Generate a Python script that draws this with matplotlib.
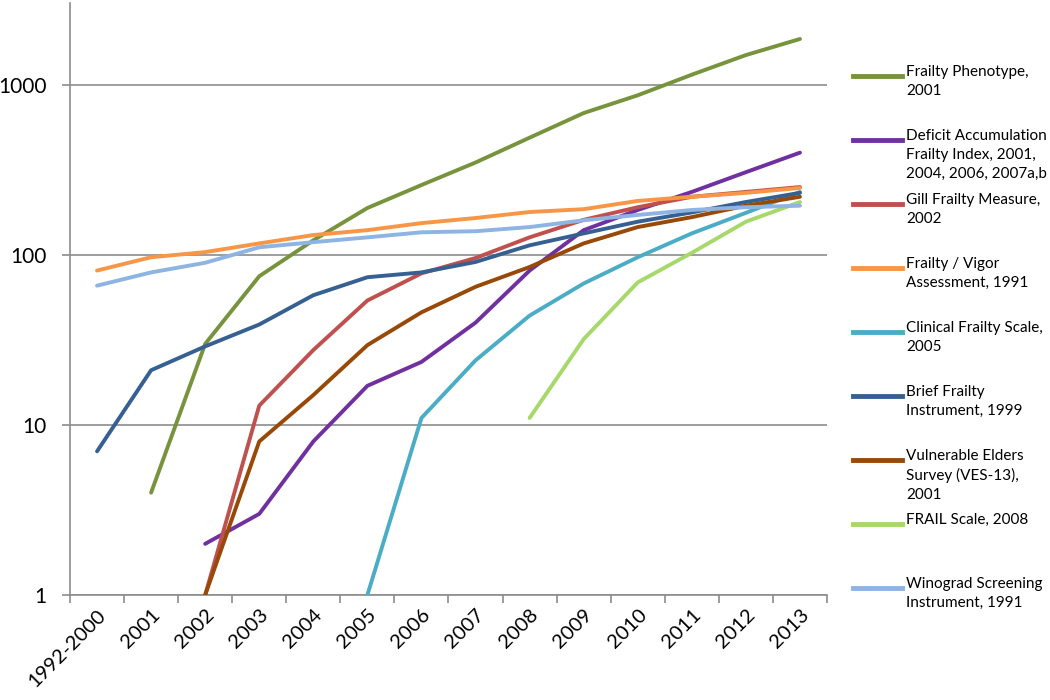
import numpy as np
import matplotlib.pyplot as plt
from matplotlib.lines import Line2D
from matplotlib.ticker import FixedLocator, NullLocator

plt.rcParams['font.family'] = ['Lato', 'DejaVu Sans']

years = ["1992-2000", "2001", "2002", "2003", "2004", "2005", "2006",
         "2007", "2008", "2009", "2010", "2011", "2012", "2013"]

# citations per year (None = no data yet)
phenotype = [None, 4, 30, 75, 122, 189, 258, 350, 490, 684, 870, 1150, 1500, 1865]
deficit = [None, None, 2, 3, 8, 17, 23.5, 40, 81, 140, 184, 235, 307, 400]
gill = [None, None, 1, 13, 27.6, 54, 78, 96, 127, 161, 191, 220, 235, 251]
vigor = [81, 97, 104, 117, 131, 140, 154, 165, 179, 186, 208, 220, 232, 248]
clinical = [None, None, None, None, None, 1, 11, 24, 44, 68, 97, 134, 177, 235]
brief = [7, 21, 29, 39, 58, 74, 79, 91, 114, 134, 157, 178, 205, 232]
ves13 = [None, None, 1, 8, 15, 29.5, 46, 65, 85, 117, 146, 167, 195, 220]
frail = [None, None, None, None, None, None, None, None, 11, 32, 69, 103, 157, 205]
winograd = [66, 79, 90, 111, 119, 127, 136, 138, 146, 160, 172, 184, 191, 195]

series = [
    ("Frailty Phenotype,\n2001", phenotype, "#77933C"),
    ("Deficit Accumulation\nFrailty Index, 2001,\n2004, 2006, 2007a,b", deficit, "#7030A0"),
    ("Gill Frailty Measure,\n2002", gill, "#C0504D"),
    ("Frailty / Vigor\nAssessment, 1991", vigor, "#F79646"),
    ("Clinical Frailty Scale,\n2005", clinical, "#4BACC6"),
    ("Brief Frailty\nInstrument, 1999", brief, "#376092"),
    ("Vulnerable Elders\nSurvey (VES-13),\n2001", ves13, "#984807"),
    ("FRAIL Scale, 2008", frail, "#A6D96A"),
    ("Winograd Screening\nInstrument, 1991", winograd, "#8DB4E2"),
]

fig = plt.figure(figsize=(10.5, 7), dpi=100)
ax = fig.add_axes([70 / 1050, 1 - 595 / 700, (827 - 70) / 1050, (595 - 3) / 700])

x = np.arange(len(years))
for label, vals, col in series:
    y = np.array([np.nan if v is None else v for v in vals], dtype=float)
    ax.plot(x, y, color=col, lw=2.8, solid_capstyle='round', zorder=3)

ax.set_yscale('log')
ax.set_ylim(1, 10 ** ((595 - 3) / 170))
ax.set_xlim(-0.5, len(years) - 0.5)

ax.yaxis.set_major_locator(FixedLocator([1, 10, 100, 1000]))
ax.yaxis.set_minor_locator(NullLocator())
ax.set_yticklabels(["1", "10", "100", "1000"], fontsize=15)
ax.grid(axis='y', color='#8c8c8c', lw=1.2)

ax.set_xticks(np.arange(-0.5, len(years)), labels=[""] * (len(years) + 1))
ax.set_xticks(x, labels=years, minor=True)
ax.tick_params(axis='x', which='minor', length=0, pad=8)
ax.tick_params(axis='x', which='major', length=6, color='#8c8c8c', width=1.2)
ax.tick_params(axis='y', length=6, color='#8c8c8c', width=1.2, pad=11)
for lab in ax.get_xticklabels(minor=True):
    lab.set_rotation(45)
    lab.set_ha('right')
    lab.set_va('top')
    lab.set_rotation_mode('anchor')
    lab.set_fontsize(14.5)

for s in ['top', 'right']:
    ax.spines[s].set_visible(False)
for s in ['left', 'bottom']:
    ax.spines[s].set_color('#8c8c8c')
    ax.spines[s].set_linewidth(1.2)

# legend, evenly spaced like the original
for i, (label, vals, col) in enumerate(series):
    yy = 1 - (76 + 64 * i) / 700
    fig.add_artist(Line2D([853 / 1050, 902 / 1050], [yy, yy], color=col, lw=3.5))
    fig.text(906 / 1050, yy + 11 / 700, label, fontsize=11, va='top', ha='left',
             linespacing=1.45)

fig.savefig("out.png")
